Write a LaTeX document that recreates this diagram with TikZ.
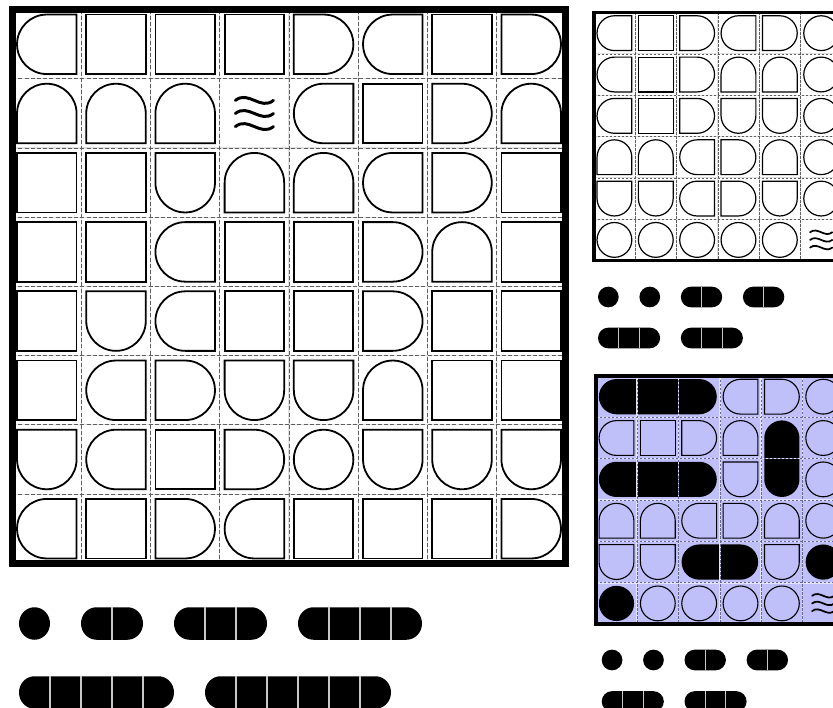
\documentclass[tikz,border=0pt]{standalone}
\definecolor{lav}{RGB}{191,191,250}
\definecolor{dashgray}{RGB}{95,95,95}
\definecolor{pdash}{RGB}{105,105,150}
\tikzset{
  bigshape/.style={draw=black, line width=1.8pt, fill=white},
  smallshape/.style={draw=black, line width=1.2pt, fill=white},
  lavshape/.style={draw=black, line width=1.1pt, fill=lav},
  biglight/.style={draw=black!12, line width=1.2pt},
  bigdash/.style={draw=dashgray, line width=0.8pt, dash pattern=on 4pt off 2.2pt},
  smalllight/.style={draw=black!12, line width=1pt},
  smalldash/.style={draw=dashgray, line width=0.6pt, dash pattern=on 2.5pt off 1.5pt},
  purplelight/.style={draw=white!55!lav, line width=1.6pt},
  purpledash/.style={draw=pdash, line width=0.6pt, dash pattern=on 2.5pt off 1.5pt},
  sepline/.style={draw=black!22, line width=1.1pt},
  framebig/.style={draw=black, line width=7pt},
  framesmall/.style={draw=black, line width=3.8pt},
}
% shape macros: #1 style, #2 cx, #3 cy, #4 half size
\def\tkshpS#1#2#3#4{\draw[#1] ({#2-#4},{#3-#4}) rectangle ({#2+#4},{#3+#4});}
\def\tkshpO#1#2#3#4{\draw[#1] (#2,#3) circle[radius=#4];}
\def\tkshpL#1#2#3#4{\draw[#1] ({#2+#4},{#3-#4}) -- ({#2+#4},{#3+#4}) -- (#2,{#3+#4}) arc[start angle=90,end angle=270,radius=#4] -- cycle;}
\def\tkshpR#1#2#3#4{\draw[#1] ({#2-#4},{#3-#4}) -- ({#2-#4},{#3+#4}) -- (#2,{#3+#4}) arc[start angle=90,end angle=-90,radius=#4] -- cycle;}
\def\tkshpT#1#2#3#4{\draw[#1] ({#2-#4},{#3+#4}) -- ({#2+#4},{#3+#4}) -- ({#2+#4},#3) arc[start angle=0,end angle=-180,radius=#4] -- cycle;}
\def\tkshpB#1#2#3#4{\draw[#1] ({#2-#4},{#3-#4}) -- ({#2+#4},{#3-#4}) -- ({#2+#4},#3) arc[start angle=0,end angle=180,radius=#4] -- cycle;}
\def\tkshpN#1#2#3#4{}
\def\tkshpW#1#2#3#4{%
  \pgfmathsetmacro\wlw{0.1*#4}%
  \foreach \kk in {-1,0,1}{%
    \pgfmathsetmacro\wy{#3+\kk*0.44*#4}%
    \draw[line width=\wlw pt, line cap=round] ({#2-0.64*#4},\wy) .. controls ({#2-0.2*#4},{\wy-0.35*#4}) and ({#2+0.2*#4},{\wy+0.35*#4}) .. ({#2+0.64*#4},\wy);
  }}
% #1 x0, #2 y0, #3 c, #4 h, #5 style, #6 rows
\newcommand\gridshapes[6]{%
  \foreach \rowlist [count=\rr from 0] in {#6} {
    \foreach \tp [count=\qq from 0] in \rowlist {
      \pgfmathsetmacro\cx{#1+(\qq+0.5)*#3}
      \pgfmathsetmacro\cy{#2+(\rr+0.5)*#3}
      \csname tkshp\tp\endcsname{#5}{\cx}{\cy}{#4}
    }
  }}
% #1 x0, #2 y0, #3 c, #4 n, #5 style
\newcommand\gridlines[5]{%
  \pgfmathtruncatemacro\nm{#4-1}
  \foreach \ii in {1,...,\nm} {
    \draw[#5] ({#1+\ii*#3},#2) -- ({#1+\ii*#3},{#2+#4*#3});
    \draw[#5] (#1,{#2+\ii*#3}) -- ({#1+#4*#3},{#2+\ii*#3});
  }}
% horizontal stadium: #1 x1, #2 x2, #3 y, #4 rx, #5 ry
\newcommand\hstad[5]{%
  \fill[black] (#1,{#3-#5}) -- (#2,{#3-#5}) arc[start angle=270,end angle=450,x radius=#4,y radius=#5] -- (#1,{#3+#5}) arc[start angle=90,end angle=270,x radius=#4,y radius=#5] -- cycle;}
% vertical stadium: #1 x, #2 y1, #3 y2, #4 r
\newcommand\vstad[4]{%
  \fill[black] ({#1+#4},#2) -- ({#1+#4},#3) arc[start angle=0,end angle=180,radius=#4] -- ({#1-#4},#2) arc[start angle=180,end angle=360,radius=#4] -- cycle;}
% piece: #1 left x, #2 centre y, #3 n cells, #4 cell width, #5 height
\newcommand\piece[5]{%
  \pgfmathsetmacro\pa{#1+0.5*#4}
  \pgfmathsetmacro\pb{#1+(#3-0.5)*#4}
  \pgfmathsetmacro\prx{0.5*#4}
  \pgfmathsetmacro\pry{0.5*#5}
  \hstad{\pa}{\pb}{#2}{\prx}{\pry}
  \ifnum#3>1
    \pgfmathtruncatemacro\pn{#3-1}
    \foreach \kk in {1,...,\pn}{\draw[sepline] ({#1+\kk*#4},{#2-\pry}) -- ({#1+\kk*#4},{#2+\pry});}
  \fi}
\begin{document}
\begin{tikzpicture}[x=1pt,y=-1pt]
\useasboundingbox (0,0) rectangle (833,708);
\clip (0,0) rectangle (833,708);
\fill[white] (0,0) rectangle (833,708);
% ---------- big grid ----------
\gridlines{12.2}{9.7}{69.2}{8}{biglight}
\gridlines{12.2}{9.7}{69.2}{8}{bigdash}
\gridshapes{12.2}{9.7}{69.2}{29.76}{bigshape}{
 {L,S,S,S,R,L,S,R},
 {T,T,T,W,L,S,R,T},
 {S,S,B,T,T,L,R,S},
 {S,S,L,S,S,R,T,S},
 {S,B,L,S,S,R,S,S},
 {S,L,R,B,B,T,S,S},
 {B,L,S,R,O,B,B,B},
 {L,S,R,L,S,S,S,R}}
\draw[framebig] (12.2,9.7) rectangle (565.8,563.3);
% big pieces
\piece{19}{623.5}{1}{31}{32.5}
\piece{81}{623.5}{2}{31}{32.5}
\piece{174}{623.5}{3}{31}{32.5}
\piece{298}{623.5}{4}{31}{32.5}
\piece{19}{692.5}{5}{31}{32.5}
\piece{205}{692.5}{6}{31}{32.5}
% ---------- top right grid ----------
\gridlines{593.75}{12.5}{41.35}{6}{smalllight}
\gridlines{593.75}{12.5}{41.35}{6}{smalldash}
\gridshapes{593.75}{12.5}{41.35}{17.4}{smallshape}{
 {L,S,R,L,R,O},
 {L,S,R,T,T,O},
 {L,S,R,B,B,O},
 {T,T,L,R,T,O},
 {B,B,L,R,B,O},
 {O,O,O,O,O,W}}
\draw[framesmall] (593.75,12.5) rectangle (841.85,260.6);
\piece{598}{297}{1}{20.7}{20.7}
\piece{639.4}{297}{1}{20.7}{20.7}
\piece{680.8}{297}{2}{20.7}{20.7}
\piece{742.9}{297}{2}{20.7}{20.7}
\piece{598}{338}{3}{20.7}{20.7}
\piece{680.8}{338}{3}{20.7}{20.7}
% ---------- purple grid ----------
\fill[lav] (595.8,376) rectangle (843.9,624.1);
\gridshapes{595.8}{376}{41.35}{17.4}{lavshape}{
 {N,N,N,L,R,O},
 {L,S,R,T,N,O},
 {N,N,N,B,N,O},
 {T,T,L,R,T,O},
 {B,B,N,N,B,N},
 {N,O,O,O,O,W}}
\hstad{616.475}{699.175}{396.675}{17.6}{17.6}
\hstad{616.475}{699.175}{479.375}{17.6}{17.6}
\vstad{781.875}{438.025}{479.375}{17.6}
\hstad{699.175}{740.525}{562.075}{17.6}{17.6}
\hstad{823.225}{823.225}{562.075}{17.6}{17.6}
\hstad{616.475}{616.475}{603.425}{17.6}{17.6}
\gridlines{595.8}{376}{41.35}{6}{purplelight}
\gridlines{595.8}{376}{41.35}{6}{purpledash}
\draw[framesmall] (595.8,376) rectangle (843.9,624.1);
\piece{601.7}{660}{1}{20.7}{20.7}
\piece{643.1}{660}{1}{20.7}{20.7}
\piece{684.5}{660}{2}{20.7}{20.7}
\piece{746.6}{660}{2}{20.7}{20.7}
\piece{601.7}{701.5}{3}{20.7}{20.7}
\piece{684.5}{701.5}{3}{20.7}{20.7}
\end{tikzpicture}
\end{document}
